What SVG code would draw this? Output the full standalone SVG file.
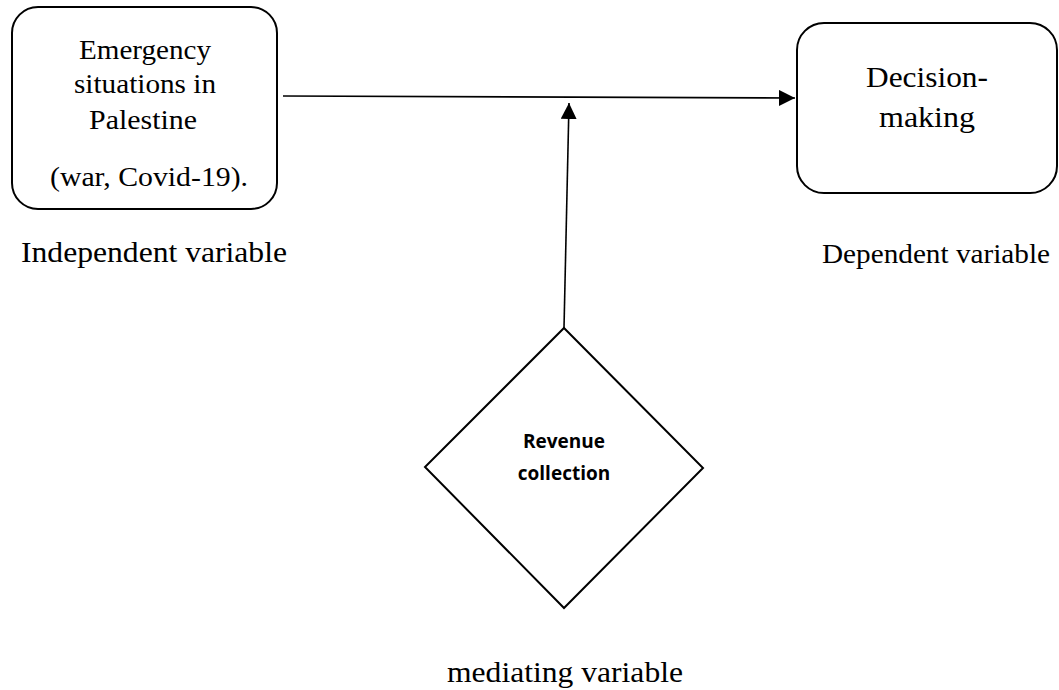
<svg xmlns="http://www.w3.org/2000/svg" width="1059" height="690" viewBox="0 0 1059 690">
<style>
.box{fill:#fff;stroke:#000;stroke-width:2}
.t{font-family:"Liberation Serif","Times New Roman",serif;fill:#000;text-anchor:middle}
.b{font-family:"Open Sans","Liberation Sans",sans-serif;font-weight:bold;font-size:19px;fill:#000;text-anchor:middle}
.c{stroke:#000;stroke-width:1.6;fill:none}
</style>
<defs>
<marker id="ah" markerUnits="userSpaceOnUse" markerWidth="17" markerHeight="16" refX="16" refY="8" orient="auto">
<path d="M0,0 L16,8 L0,16 Z" fill="#000"/>
</marker>
</defs>
<rect width="1059" height="690" fill="#fff"/>
<g id="connectors">
<line class="c" x1="283" y1="96" x2="795" y2="98" marker-end="url(#ah)"/>
<line class="c" x1="564" y1="328" x2="569" y2="103" marker-end="url(#ah)"/>
</g>
<g id="independent">
<rect class="box" x="12" y="7" width="265" height="202" rx="26" ry="26"/>
<text class="t" font-size="27" x="145" y="59" textLength="132" lengthAdjust="spacingAndGlyphs">Emergency</text>
<text class="t" font-size="27" x="145" y="93" textLength="142" lengthAdjust="spacingAndGlyphs">situations in</text>
<text class="t" font-size="27" x="143" y="129" textLength="108" lengthAdjust="spacingAndGlyphs">Palestine</text>
<text class="t" font-size="27" x="149" y="186" textLength="198" lengthAdjust="spacingAndGlyphs">(war, Covid-19).</text>
</g>
<g id="dependent">
<rect class="box" x="797" y="23" width="260" height="170" rx="27" ry="27"/>
<text class="t" font-size="29" x="927" y="87" textLength="122" lengthAdjust="spacingAndGlyphs">Decision-</text>
<text class="t" font-size="29" x="927" y="127" textLength="96" lengthAdjust="spacingAndGlyphs">making</text>
</g>
<g id="mediator">
<polygon class="box" points="564,328 703,468 564,608 425,467"/>
<text class="b" x="564" y="448">Revenue</text>
<text class="b" x="564" y="480">collection</text>
</g>
<g id="labels">
<text class="t" font-size="30" x="154" y="262" textLength="266" lengthAdjust="spacingAndGlyphs">Independent variable</text>
<text class="t" font-size="28" x="936" y="263" textLength="228" lengthAdjust="spacingAndGlyphs">Dependent variable</text>
<text class="t" font-size="30" x="565" y="682" textLength="236" lengthAdjust="spacingAndGlyphs">mediating variable</text>
</g>
</svg>
